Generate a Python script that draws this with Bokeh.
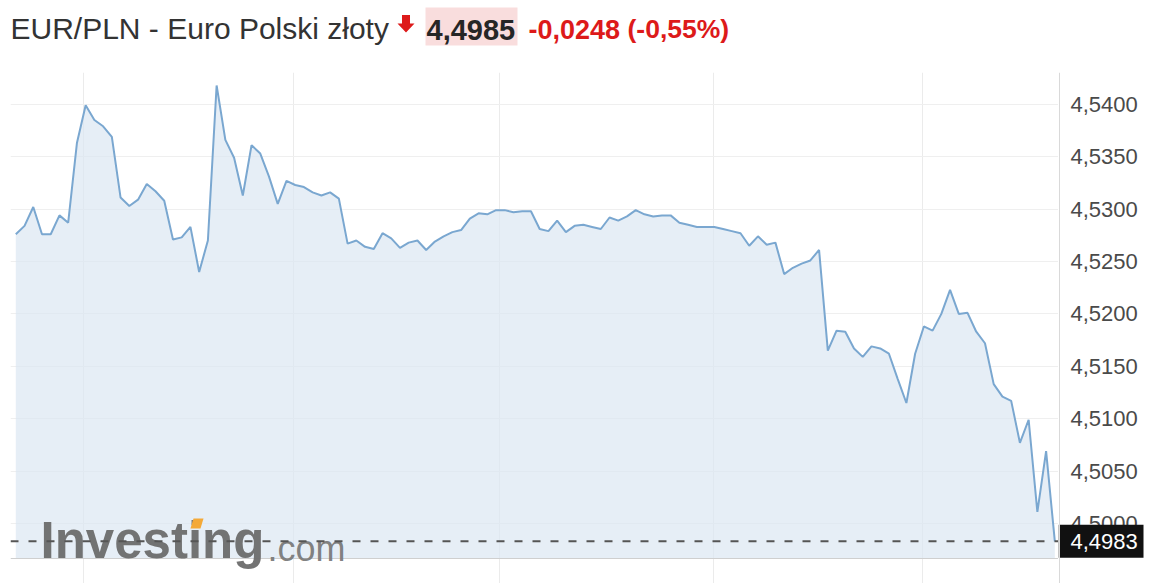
from bokeh.plotting import figure
from bokeh.layouts import column, row
from bokeh.models import Range1d, FixedTicker, Span, Label, PolyAnnotation
from bokeh.core.properties import value
from bokeh.embed import file_html
from bokeh.resources import INLINE

# ---------------- data ----------------
title_text = "EUR/PLN - Euro Polski złoty"
last_price_text = "4,4985"
change_text = "-0,0248"
change_pct_text = "(-0,55%)"

rates = [
    4.5276, 4.5284, 4.5302, 4.5276, 4.5276, 4.5294, 4.5287, 4.5363, 4.5399, 4.5385,
    4.5379, 4.5369, 4.5311, 4.5303, 4.5309, 4.5324, 4.5317, 4.5308, 4.5271, 4.5273,
    4.5283, 4.5240, 4.5270, 4.5418, 4.5366, 4.5349, 4.5313, 4.5361, 4.5353, 4.5331,
    4.5305, 4.5327, 4.5323, 4.5321, 4.5316, 4.5313, 4.5316, 4.5310, 4.5267, 4.5270,
    4.5264, 4.5262, 4.5277, 4.5272, 4.5263, 4.5268, 4.5270, 4.5261, 4.5269, 4.5274,
    4.5278, 4.5280, 4.5291, 4.5296, 4.5295, 4.5299, 4.5299, 4.5297, 4.5298, 4.5298,
    4.5281, 4.5279, 4.5289, 4.5278, 4.5284, 4.5285, 4.5283, 4.5281, 4.5292, 4.5289,
    4.5293, 4.5299, 4.5295, 4.5293, 4.5294, 4.5294, 4.5287, 4.5285, 4.5283, 4.5283,
    4.5283, 4.5281, 4.5279, 4.5277, 4.5265, 4.5274, 4.5266, 4.5268, 4.5238, 4.5244,
    4.5248, 4.5251, 4.5261, 4.5165, 4.5184, 4.5183, 4.5167, 4.5159, 4.5169, 4.5167,
    4.5162, 4.5138, 4.5115, 4.5162, 4.5188, 4.5184, 4.5200, 4.5223, 4.5200, 4.5201,
    4.5183, 4.5172, 4.5133, 4.5121, 4.5117, 4.5077, 4.5099, 4.5011, 4.5069, 4.4983,
]

y_ticks = [4.5000, 4.5050, 4.5100, 4.5150, 4.5200, 4.5250, 4.5300, 4.5350, 4.5400]
y_tick_labels = ["4,5000", "4,5050", "4,5100", "4,5150", "4,5200",
                 "4,5250", "4,5300", "4,5350", "4,5400"]
x_grid_positions = [7.8, 31.8, 55.4, 79.9, 103.9]

xs = list(range(len(rates)))
current_text = f"{rates[-1]:.4f}".replace(".", ",")

# ---------------- style ----------------
W = 1160
LB = 10          # left border
RW = 102         # width of the right-hand price scale strip
TH = 62          # title strip height
CH = 521         # chart height
TOP = 10         # chart top border
FONT = "Liberation Sans"
RED = "#dd1a1a"
Y_LO, Y_HI = 4.494274, 4.543034     # visible value span of the chart frame
FILL_BASE = 4.49666                 # level of the chart's bottom line

# ---------------- title strip ----------------
t = figure(width=W, height=TH, x_range=Range1d(0, W - LB - RW), y_range=Range1d(0, TH),
           toolbar_location=None, output_backend="svg",
           min_border_left=LB, min_border_right=RW, min_border_top=0, min_border_bottom=0,
           x_axis_location=None, y_axis_location=None)
t.grid.visible = False
t.outline_line_color = None

t.patch(x=[391.5, 399.5, 399.5, 404, 395.5, 387, 391.5],
        y=[47.5, 47.5, 39, 39, 30, 39, 39], fill_color=RED, line_color=None)
t.quad(left=[415], right=[507], bottom=[17], top=[55],
       fill_color="#f9dddd", line_color=None)
t.text(x=[0], y=[17.4], text=[title_text], text_font=value(FONT),
       text_font_size="30px", text_color="#333333", text_baseline="bottom")
t.text(x=[416], y=[23.0], text=[last_price_text], text_font=value(FONT),
       text_font_size="29px", text_font_style="bold", text_color="#262626",
       text_baseline="bottom")
t.text(x=[518], y=[23.4], text=[change_text], text_font=value(FONT),
       text_font_size="27px", text_font_style="bold", text_color=RED,
       text_baseline="bottom")
t.text(x=[617], y=[19.0], text=[change_pct_text], text_font=value(FONT),
       text_font_size="26.5px", text_font_style="bold", text_color=RED,
       text_baseline="bottom")

# ---------------- chart ----------------
p = figure(width=W - RW, height=CH, x_range=Range1d(-0.607, 119.42),
           y_range=Range1d(Y_LO, Y_HI),
           toolbar_location=None, output_backend="svg",
           x_axis_location=None, y_axis_location=None,
           min_border_left=LB, min_border_right=0, min_border_top=TOP, min_border_bottom=0)
p.outline_line_color = None
p.xgrid.ticker = FixedTicker(ticks=x_grid_positions)
p.ygrid.ticker = FixedTicker(ticks=y_ticks)
p.xgrid.grid_line_color = "#ebebeb"
p.ygrid.grid_line_color = "#efefef"

p.varea(x=xs, y1=FILL_BASE, y2=rates, fill_color="#dbe7f2", fill_alpha=0.7)
p.line(xs, rates, line_color="#7aa7d0", line_width=2)
p.add_layout(Span(location=FILL_BASE, dimension="width", line_color="#cfcfcf", line_width=1))

# watermark
p.add_layout(Label(x=30, y=15, x_units="screen", y_units="screen", text="Investing",
                   text_font=FONT, text_font_size="51px", text_font_style="bold",
                   text_baseline="bottom", text_color="#6c6c6c", text_alpha=0.95))
p.add_layout(PolyAnnotation(xs=[183, 193, 190, 180], ys=[65, 65, 55, 55],
                            xs_units="screen", ys_units="screen",
                            fill_color="#f4a938", fill_alpha=1, line_color=None))
p.add_layout(Label(x=257, y=15, x_units="screen", y_units="screen", text=".com",
                   text_font=FONT, text_font_size="36px", text_color="#7a7a7a",
                   text_baseline="bottom", text_alpha=0.95))

# last value dashed line
p.add_layout(Span(location=rates[-1], dimension="width", line_color="#555555",
                  line_width=2, line_dash="8 10"))

# ---------------- right price scale ----------------
r = figure(width=RW, height=CH, x_range=Range1d(0, RW), y_range=p.y_range,
           toolbar_location=None, output_backend="svg",
           x_axis_location=None, y_axis_location=None,
           min_border_left=0, min_border_right=0, min_border_top=TOP, min_border_bottom=0)
r.grid.visible = False
r.outline_line_color = None
r.add_layout(Span(location=1, dimension="height", line_color="#d9d9d9", line_width=1))
r.text(x=[12] * len(y_ticks), y=y_ticks, text=y_tick_labels, text_font=value(FONT),
       text_font_size="22px", text_color="#4a4a4a", text_baseline="middle")
r.rect(x=[42.5], y=[rates[-1]], width=[85], height=[33], height_units="screen",
       fill_color="#111111", line_color=None)
r.text(x=[12], y=[rates[-1]], text=[current_text], text_font=value(FONT),
       text_font_size="22px", text_color="#ffffff", text_baseline="middle")

layout = column(t, row(p, r))
open("out.html", "w").write(file_html(layout, INLINE))
